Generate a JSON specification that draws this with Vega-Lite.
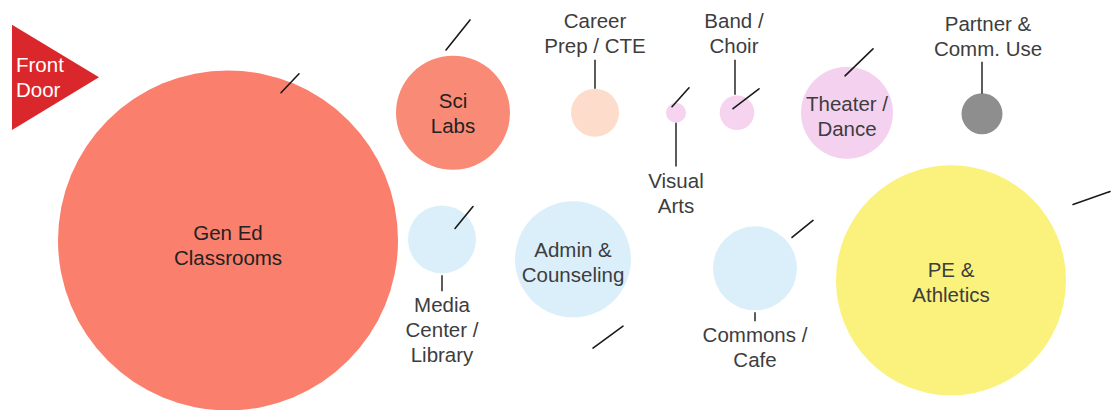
{
  "$schema": "https://vega.github.io/schema/vega-lite/v6.json",
  "width": 1113,
  "height": 410,
  "autosize": {"type": "fit", "contains": "padding"},
  "padding": 0,
  "background": "white",
  "config": {"view": {"stroke": null}, "axis": {"disable": true}},
  "resolve": {"scale": {"color": "independent"}},
  "datasets": {
    "rooms": [
      {"room": "Gen Ed Classrooms", "x": 228, "y": 241, "relArea": 28900},
      {"room": "Sci Labs", "x": 453, "y": 113, "relArea": 3249},
      {"room": "Career Prep / CTE", "x": 595, "y": 113, "relArea": 576},
      {"room": "Visual Arts", "x": 676, "y": 113, "relArea": 100},
      {"room": "Band / Choir", "x": 737, "y": 113, "relArea": 300},
      {"room": "Theater / Dance", "x": 847, "y": 113, "relArea": 2116},
      {"room": "Partner & Comm. Use", "x": 982, "y": 114, "relArea": 420},
      {"room": "Media Center / Library", "x": 442, "y": 240, "relArea": 1156},
      {"room": "Admin & Counseling", "x": 573, "y": 260, "relArea": 3364},
      {"room": "Commons / Cafe", "x": 755, "y": 269, "relArea": 1764},
      {"room": "PE & Athletics", "x": 951, "y": 281, "relArea": 13225}
    ],
    "labels": [
      {"text": "Gen Ed\nClassrooms", "x": 228, "y": 235, "tone": "dark"},
      {"text": "Sci\nLabs", "x": 453, "y": 102, "tone": "dark"},
      {"text": "Career\nPrep / CTE", "x": 595, "y": 22, "tone": "gray"},
      {"text": "Visual\nArts", "x": 676, "y": 182, "tone": "gray"},
      {"text": "Band /\nChoir", "x": 734, "y": 22, "tone": "gray"},
      {"text": "Theater /\nDance", "x": 847, "y": 105, "tone": "gray"},
      {"text": "Partner &\nComm. Use", "x": 988, "y": 25, "tone": "gray"},
      {"text": "Media\nCenter /\nLibrary", "x": 442, "y": 307, "tone": "gray"},
      {"text": "Admin &\nCounseling", "x": 573, "y": 252, "tone": "gray"},
      {"text": "Commons /\nCafe", "x": 755, "y": 337, "tone": "gray"},
      {"text": "PE &\nAthletics", "x": 951, "y": 272, "tone": "gray"}
    ],
    "leaders": [
      {"x": 595, "y": 60, "y2": 89},
      {"x": 676, "y": 123, "y2": 167},
      {"x": 735, "y": 60, "y2": 95},
      {"x": 982, "y": 62, "y2": 94},
      {"x": 442, "y": 276, "y2": 292},
      {"x": 755, "y": 313, "y2": 322}
    ],
    "strokes": [
      {"x": 281, "y": 93, "x2": 299, "y2": 74},
      {"x": 446, "y": 50, "x2": 470, "y2": 20},
      {"x": 672, "y": 107, "x2": 689, "y2": 88},
      {"x": 733, "y": 109, "x2": 759, "y2": 89},
      {"x": 845, "y": 76, "x2": 873, "y2": 49},
      {"x": 1073, "y": 205, "x2": 1110, "y2": 192},
      {"x": 455, "y": 229, "x2": 473, "y2": 207},
      {"x": 593, "y": 349, "x2": 623, "y2": 327},
      {"x": 792, "y": 238, "x2": 813, "y2": 221}
    ],
    "door": [
      {"label": "Front\nDoor", "x": 55.5, "y": 77.5, "tx": 16, "ty": 66}
    ]
  },
  "layer": [
    {
      "data": {"name": "door"},
      "mark": {"type": "point", "filled": true, "opacity": 1, "shape": "M-1,-1.21L1,0L-1,1.21Z", "size": 7569, "color": "#D9272B", "strokeWidth": 0},
      "encoding": {
        "x": {"field": "x", "type": "quantitative", "scale": {"domain": [0, 1113], "nice": false, "zero": false}, "axis": null},
        "y": {"field": "y", "type": "quantitative", "scale": {"domain": [0, 410], "nice": false, "zero": false, "reverse": true}, "axis": null}
      }
    },
    {
      "data": {"name": "rooms"},
      "mark": {"type": "circle", "opacity": 1, "strokeWidth": 0},
      "encoding": {
        "x": {"field": "x", "type": "quantitative"},
        "y": {"field": "y", "type": "quantitative"},
        "size": {"field": "relArea", "type": "quantitative", "scale": {"type": "linear", "domain": [0, 30000], "range": [0, 120000], "zero": true}, "legend": null},
        "color": {
          "field": "room", "type": "nominal", "legend": null,
          "scale": {
            "domain": ["Gen Ed Classrooms", "Sci Labs", "Career Prep / CTE", "Visual Arts", "Band / Choir", "Theater / Dance", "Partner & Comm. Use", "Media Center / Library", "Admin & Counseling", "Commons / Cafe", "PE & Athletics"],
            "range": ["#FA7F6C", "#F98B76", "#FDDCCC", "#F6D4EF", "#F6D4EF", "#F4D2EF", "#8E8E8E", "#DBEFFA", "#DBEFFA", "#DBEFFA", "#FBF27D"]
          }
        }
      }
    },
    {
      "data": {"name": "leaders"},
      "mark": {"type": "rule", "color": "#333333", "strokeWidth": 1.6},
      "encoding": {
        "x": {"field": "x", "type": "quantitative"},
        "y": {"field": "y", "type": "quantitative"},
        "y2": {"field": "y2"}
      }
    },
    {
      "data": {"name": "strokes"},
      "mark": {"type": "rule", "color": "#1a1a1a", "strokeWidth": 1.6, "strokeCap": "round"},
      "encoding": {
        "x": {"field": "x", "type": "quantitative"},
        "y": {"field": "y", "type": "quantitative"},
        "x2": {"field": "x2"},
        "y2": {"field": "y2"}
      }
    },
    {
      "data": {"name": "labels"},
      "mark": {"type": "text", "font": "Liberation Sans", "fontSize": 20.5, "lineHeight": 25, "lineBreak": "\n", "align": "center", "baseline": "middle"},
      "encoding": {
        "x": {"field": "x", "type": "quantitative"},
        "y": {"field": "y", "type": "quantitative"},
        "text": {"field": "text"},
        "color": {"field": "tone", "type": "nominal", "legend": null, "scale": {"domain": ["dark", "gray"], "range": ["#222222", "#3d3d3d"]}}
      }
    },
    {
      "data": {"name": "door"},
      "mark": {"type": "text", "font": "Liberation Sans", "fontSize": 20.5, "lineHeight": 25, "lineBreak": "\n", "align": "left", "baseline": "middle", "color": "#FFFFFF"},
      "encoding": {
        "x": {"field": "tx", "type": "quantitative"},
        "y": {"field": "ty", "type": "quantitative"},
        "text": {"field": "label"}
      }
    }
  ]
}
